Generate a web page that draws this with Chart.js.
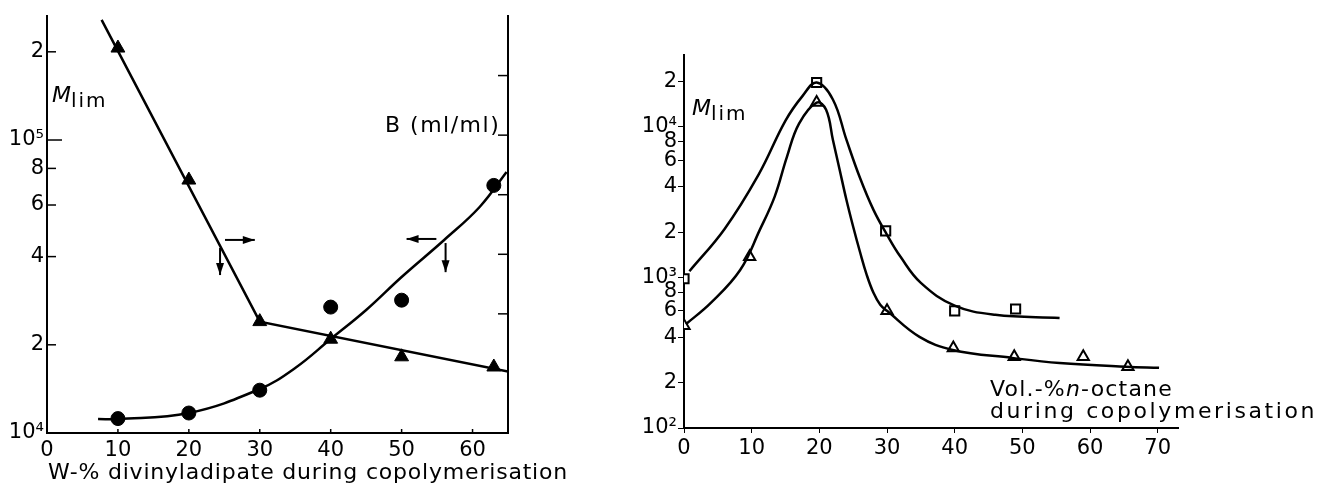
<!DOCTYPE html>
<html>
<head>
<meta charset="utf-8">
<script src="https://cdn.jsdelivr.net/npm/chart.js@4.4.1/dist/chart.umd.min.js"></script>
<style>
body{margin:0;background:#fff;width:1324px;height:497px;position:relative;overflow:hidden;font-family:"DejaVu Sans",sans-serif;color:#000}
.box{position:absolute;top:0;height:497px}
.lbl{position:absolute;font-size:22px;white-space:nowrap;line-height:22px}
.sub{font-size:20px;position:relative;top:5px;letter-spacing:2px}
</style>
</head>
<body>
<div class="box" style="left:0;width:580px"><canvas id="left"></canvas></div>
<div class="box" style="left:620px;width:704px"><canvas id="right"></canvas></div>

<div class="lbl" style="left:52px;top:84px"><i>M</i><span class="sub">lim</span></div>
<div class="lbl" style="left:385px;top:114px;letter-spacing:1.5px">B (ml/ml)</div>
<div class="lbl" style="left:48px;top:461px;letter-spacing:0.8px">W-% divinyladipate during copolymerisation</div>

<div class="lbl" style="left:692px;top:97px"><i>M</i><span class="sub">lim</span></div>
<div class="lbl" style="left:990px;top:378px;letter-spacing:2.6px"><span style="letter-spacing:1.2px">Vol.-%<i>n</i>-octane</span><br>during copolymerisation</div>

<script>
// left chart: W-% divinyladipate
const dvaTriX = [10, 20, 30, 40, 50, 63];
const dvaTriY = [206000, 73000, 24000, 20900, 18200, 16800];
const dvaDotX = [10, 20, 30, 40, 50, 63];
const dvaDotY = [11200, 11700, 14000, 26900, 28400, 70000];
// drawn lines of the left chart
const triLineX = [7.7, 30, 65];
const triLineY = [257000, 24000, 16200];
const dotCurveX = [7.2, 10, 20, 30, 35, 40, 45, 50, 56, 61, 64.8];
const dotCurveY = [11160, 11160, 11700, 14130, 16670, 20930, 26290, 34080, 45580, 59070, 77790];
const leftYTicks = [1e4, 2e4, 4e4, 6e4, 8e4, 1e5, 2e5];
const leftXTicks = [0, 10, 20, 30, 40, 50, 60];
const leftRightTicks = [2, 3, 4, 5, 6];

// right chart: Vol.-% n-octane
const octSqX = [0, 19.6, 29.8, 40, 49];
const octSqY = [980, 19700, 2040, 600, 617];
const octTriX = [0, 9.7, 19.6, 30, 39.8, 48.8, 59, 65.6];
const octTriY = [477, 1370, 14500, 600, 340, 297, 297, 255];
const sqCurveX = [0.8, 6, 11, 15, 17.5, 19.6, 22, 24, 26, 28, 30, 32, 35, 40, 46, 55.5];
const sqCurveY = [1100, 2100, 4800, 11000, 16000, 19700, 15200, 8220, 4590, 2810, 1920, 1370, 920, 650, 565, 538];
const triCurveX = [0.3, 4, 8.3, 11.2, 13.4, 15.2, 17, 19.6, 21, 22, 23, 24, 25, 26, 27, 28, 29, 30, 34.8, 39.7, 48.5, 55.5, 65.3, 70.2];
const triCurveY = [490, 680, 1120, 2070, 3440, 6300, 10500, 14500, 13000, 8220, 5190, 3280, 2170, 1480, 1040, 790, 658, 600, 403, 330, 292, 270, 255, 251];
const rightYTicks = [100, 200, 400, 600, 800, 1000, 2000, 4000, 6000, 8000, 10000, 20000];
const rightXTicks = [0, 10, 20, 30, 40, 50, 60, 70];

const FONT = {family: 'DejaVu Sans', size: 21};

function pts(xs, ys) {
    return xs.map((x, i) => ({x: x, y: ys[i]}));
}

function powLabel(v) {
    const sup = {2: '\u00b2', 3: '\u00b3', 4: '\u2074', 5: '\u2075'};
    const e = Math.round(Math.log10(v));
    if (Math.abs(Math.pow(10, e) - v) < 1e-6 * v) return '10' + sup[e];
    return String(Math.round(v / Math.pow(10, Math.floor(Math.log10(v)))));
}

function fixTicks(list) {
    return function(scale) { scale.ticks = list.map(v => ({value: v})); };
}

// short tick marks drawn into the plot area
const innerTicks = {
    id: 'innerTicks',
    afterDraw(chart, args, opts) {
        const ctx = chart.ctx;
        ctx.save();
        ctx.strokeStyle = '#000';
        ctx.lineWidth = 1.5;
        (opts.marks || []).forEach(m => {
            const s = chart.scales[m.scale];
            m.values.forEach((v, i) => {
                const p = s.getPixelForValue(v);
                const len = m.len[i] || m.len[0];
                ctx.beginPath();
                if (s.isHorizontal()) { ctx.moveTo(p, s.top); ctx.lineTo(p, s.top - len); }
                else if (s.position === 'left') { ctx.moveTo(s.right, p); ctx.lineTo(s.right + len, p); }
                else { ctx.moveTo(s.left, p); ctx.lineTo(s.left - len, p); }
                ctx.stroke();
            });
        });
        ctx.restore();
    }
};

const arrows = {
    id: 'arrows',
    afterDatasetsDraw(chart, args, opts) {
        const xs = chart.scales.x, ys = chart.scales.y, ctx = chart.ctx;
        ctx.save();
        ctx.strokeStyle = '#000';
        ctx.fillStyle = '#000';
        ctx.lineWidth = 2;
        (opts.list || []).forEach(a => {
            const x1 = xs.getPixelForValue(a[0]), y1 = ys.getPixelForValue(a[1]);
            const x2 = xs.getPixelForValue(a[2]), y2 = ys.getPixelForValue(a[3]);
            const ang = Math.atan2(y2 - y1, x2 - x1);
            ctx.beginPath();
            ctx.moveTo(x1, y1);
            ctx.lineTo(x2, y2);
            ctx.stroke();
            ctx.beginPath();
            ctx.moveTo(x2, y2);
            ctx.lineTo(x2 - 12 * Math.cos(ang) + 4 * Math.sin(ang), y2 - 12 * Math.sin(ang) - 4 * Math.cos(ang));
            ctx.lineTo(x2 - 12 * Math.cos(ang) - 4 * Math.sin(ang), y2 - 12 * Math.sin(ang) + 4 * Math.cos(ang));
            ctx.closePath();
            ctx.fill();
        });
        ctx.restore();
    }
};

Chart.defaults.font.family = FONT.family;
Chart.defaults.font.size = FONT.size;
Chart.defaults.color = '#000';

new Chart(document.getElementById('left'), {
    type: 'scatter',
    data: {
        datasets: [
            {data: pts(triLineX, triLineY), showLine: true, pointRadius: 0, borderColor: '#000', borderWidth: 2.5},
            {data: pts(dotCurveX, dotCurveY), showLine: true, tension: 0.4, pointRadius: 0, borderColor: '#000', borderWidth: 2.5},
            {data: pts(dvaTriX, dvaTriY), pointStyle: 'triangle', pointRadius: 8, backgroundColor: '#000', borderColor: '#000'},
            {data: pts(dvaDotX, dvaDotY), pointStyle: 'circle', pointRadius: 7, backgroundColor: '#000', borderColor: '#000'}
        ]
    },
    options: {
        responsive: true,
        maintainAspectRatio: false,
        animation: false,
        layout: {padding: {top: 16, left: 0, right: 0, bottom: 0}},
        plugins: {
            legend: {display: false},
            tooltip: {enabled: false},
            innerTicks: {marks: [
                {scale: 'y', values: leftYTicks, len: [15, 9, 9, 9, 9, 15, 9]},
                {scale: 'x', values: leftXTicks.slice(1), len: [4]},
                {scale: 'y2', values: leftRightTicks, len: [10]}
            ]},
            arrows: {list: [
                [25.1, 45600, 29.3, 45600],
                [24.4, 42800, 24.4, 34600],
                [54.9, 45950, 50.7, 45950],
                [56.2, 44500, 56.2, 35400]
            ]}
        },
        scales: {
            x: {
                type: 'linear', min: 0, max: 65,
                afterBuildTicks: fixTicks(leftXTicks),
                afterFit(s) { s.height = 64; },
                grid: {display: true, drawOnChartArea: false, drawTicks: false},
                border: {color: '#000', width: 2},
                ticks: {padding: 5, callback: v => String(v)}
            },
            y: {
                type: 'logarithmic', min: 1e4, max: 265000,
                afterBuildTicks: fixTicks(leftYTicks),
                afterFit(s) { s.width = 47; },
                grid: {display: true, drawOnChartArea: false, drawTicks: false},
                border: {color: '#000', width: 2},
                ticks: {padding: 3, callback: v => powLabel(v)}
            },
            y2: {
                type: 'linear', position: 'right', min: 0, max: 7,
                afterFit(s) { s.width = 72; },
                grid: {display: false, drawTicks: false},
                border: {display: true, color: '#000', width: 2},
                ticks: {display: false}
            }
        }
    },
    plugins: [innerTicks, arrows]
});

new Chart(document.getElementById('right'), {
    type: 'scatter',
    data: {
        datasets: [
            {data: pts(sqCurveX, sqCurveY), showLine: true, tension: 0.4, pointRadius: 0, borderColor: '#000', borderWidth: 2.5},
            {data: pts(triCurveX, triCurveY), showLine: true, tension: 0.4, pointRadius: 0, borderColor: '#000', borderWidth: 2.5},
            {data: pts(octSqX, octSqY), pointStyle: 'rect', pointRadius: 6.5, backgroundColor: '#fff', borderColor: '#000', borderWidth: 2},
            {data: pts(octSqX, octSqY), pointStyle: 'circle', pointRadius: 1, backgroundColor: '#000', borderColor: '#000', borderWidth: 0},
            {data: pts(octTriX, octTriY), pointStyle: 'triangle', pointRadius: 6.5, backgroundColor: '#fff', borderColor: '#000', borderWidth: 2}
        ]
    },
    options: {
        responsive: true,
        maintainAspectRatio: false,
        animation: false,
        layout: {padding: {top: 55, left: 0, right: 146, bottom: 0}},
        plugins: {
            legend: {display: false},
            tooltip: {enabled: false}
        },
        scales: {
            x: {
                type: 'linear', min: 0, max: 73,
                afterBuildTicks: fixTicks(rightXTicks),
                afterFit(s) { s.height = 69; },
                grid: {display: true, drawOnChartArea: false, drawTicks: true, tickLength: 5, color: '#000'},
                border: {color: '#000', width: 2},
                ticks: {padding: 3, callback: v => String(v)}
            },
            y: {
                type: 'logarithmic', min: 100, max: 30000,
                afterBuildTicks: fixTicks(rightYTicks),
                afterFit(s) { s.width = 64; },
                grid: {display: true, drawOnChartArea: false, drawTicks: true, tickLength: 6, color: '#000'},
                border: {color: '#000', width: 2},
                ticks: {padding: 1, callback: v => powLabel(v)}
            }
        }
    }
});
</script>
</body>
</html>
